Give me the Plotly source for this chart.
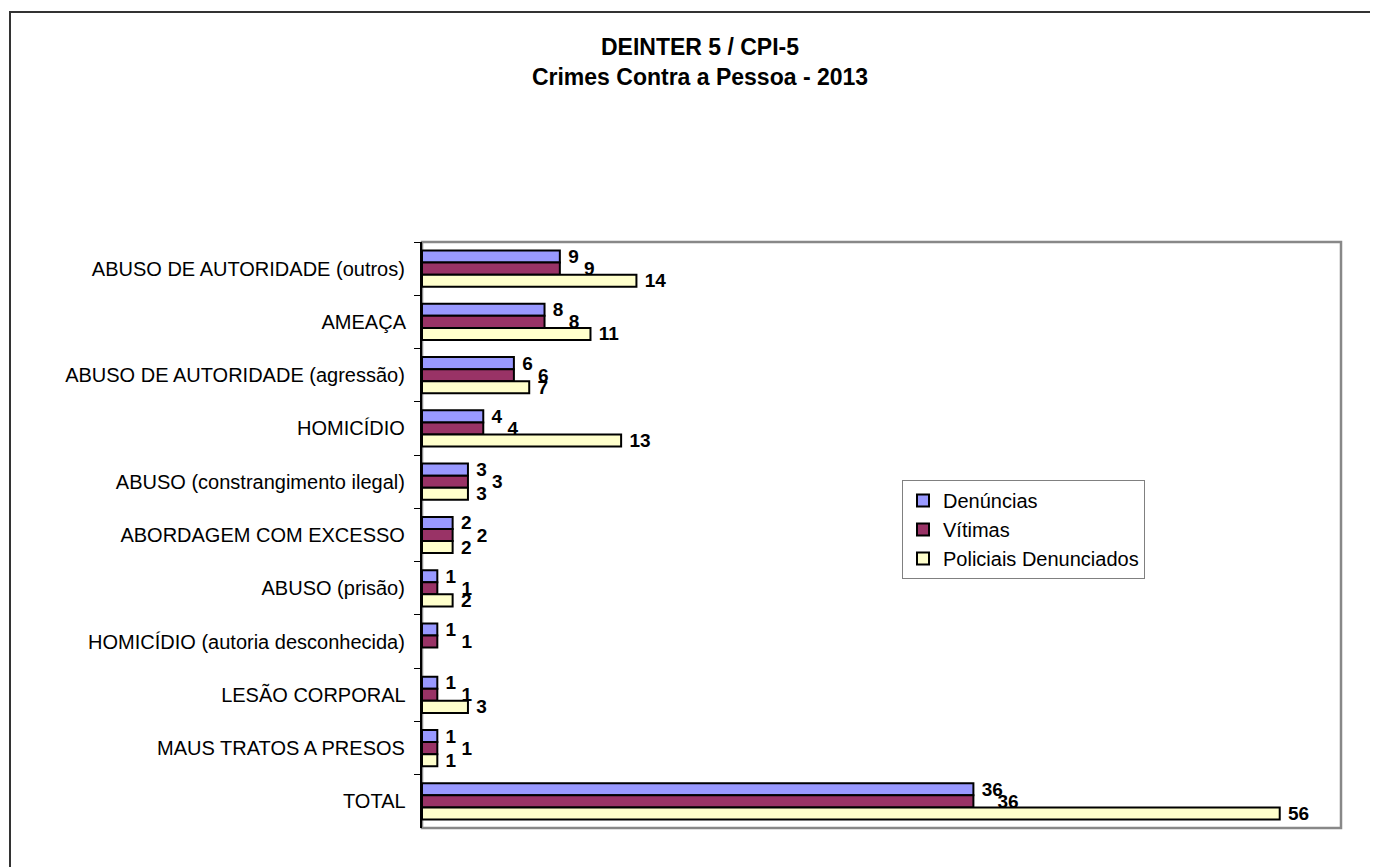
import plotly.graph_objects as go

categories = [
    "ABUSO DE AUTORIDADE (outros)",
    "AMEAÇA",
    "ABUSO DE AUTORIDADE (agressão)",
    "HOMICÍDIO",
    "ABUSO (constrangimento ilegal)",
    "ABORDAGEM COM EXCESSO",
    "ABUSO (prisão)",
    "HOMICÍDIO (autoria desconhecida)",
    "LESÃO CORPORAL",
    "MAUS TRATOS A PRESOS",
    "TOTAL",
]
denuncias = [9, 8, 6, 4, 3, 2, 1, 1, 1, 1, 36]
vitimas = [9, 8, 6, 4, 3, 2, 1, 1, 1, 1, 36]
policiais = [14, 11, 7, 13, 3, 2, 2, None, 3, 1, 56]

series = [
    ("Denúncias", denuncias, "#9999FF", "\u00a0"),
    ("Vítimas", vitimas, "#993366", "\u00a0\u00a0\u00a0\u00a0"),
    ("Policiais Denunciados", policiais, "#FFFFCC", "\u00a0"),
]

# page body has an 8px margin -> figure coordinates = screen - 8
W, H = 1370, 859
ml, mr, mt, mb = 414, 37, 234, 39
pw, ph = W - ml - mr, H - mt - mb

fig = go.Figure()
for name, vals, color, pre in series:
    fig.add_trace(go.Bar(
        y=categories, x=vals, name=name, orientation="h",
        marker=dict(color=color, line=dict(color="black", width=2)),
        text=[("" if v is None else pre + str(v)) for v in vals],
        textposition="outside", constraintext="none",
        textfont=dict(family="Arial", size=19, color="black", weight="bold"),
        cliponaxis=False,
    ))

def px2x(px):
    return (px - ml) / pw

def px2y(py):
    return (H - mb - py) / ph

fig.update_layout(
    width=W, height=H,
    margin=dict(l=ml, r=mr, t=mt, b=mb),
    paper_bgcolor="white", plot_bgcolor="white",
    barmode="group", bargap=0.32, bargroupgap=0,
    font=dict(family="Arial", size=20, color="black"),
    title=dict(
        text="<b>DEINTER 5 / CPI-5</b><br><b>Crimes Contra a Pessoa - 2013</b>",
        x=692 / W, xanchor="center", y=1 - 47 / H, yanchor="top",
        font=dict(family="Arial", size=23, color="black"),
    ),
    xaxis=dict(range=[0, 60], visible=False, showgrid=False, zeroline=False),
    yaxis=dict(
        autorange="reversed", showgrid=False, zeroline=False,
        showline=True, linecolor="black", linewidth=2,
        ticks="outside", ticklen=6, tickcolor="black", tickwidth=1,
        tickson="boundaries", ticksuffix="  ",
        tickfont=dict(family="Arial", size=20, color="black"),
    ),
    legend=dict(
        x=px2x(894), xanchor="left", y=px2y(472), yanchor="top",
        bgcolor="white", bordercolor="#808080", borderwidth=1,
        font=dict(family="Arial", size=20, color="black"),
        traceorder="normal", itemwidth=30,
    ),
    showlegend=True,
    shapes=[
        dict(type="rect", xref="paper", yref="paper", x0=0, y0=0, x1=1, y1=1,
             line=dict(color="#888888", width=2.5), layer="below"),
        dict(type="rect", xref="paper", yref="paper",
             x0=px2x(2), y0=px2y(H + 20), x1=px2x(W + 20), y1=px2y(4),
             line=dict(color="#333333", width=2), layer="below"),
    ],
)

fig.write_html("out.html")
